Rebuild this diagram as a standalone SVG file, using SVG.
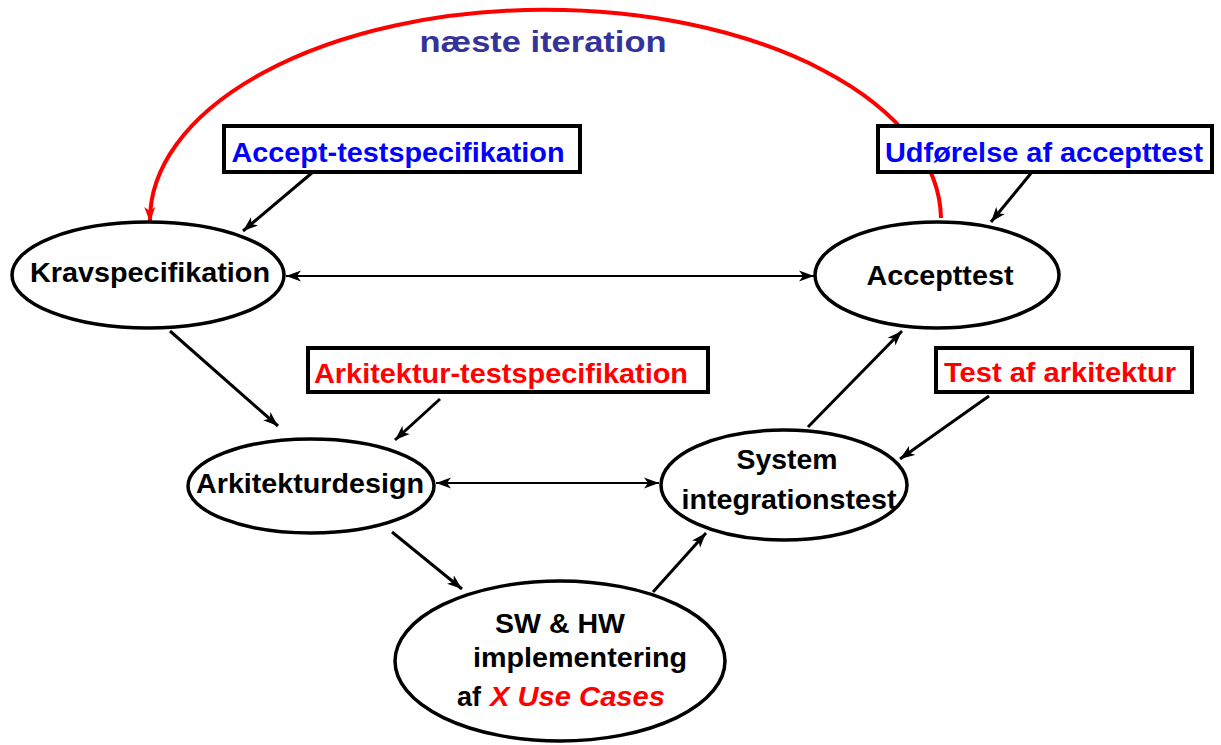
<svg xmlns="http://www.w3.org/2000/svg" width="1221" height="745" viewBox="0 0 1221 745">
<style>
text{font-family:"Liberation Sans",Arial,sans-serif;font-weight:bold;text-anchor:middle}
.n{fill:#fff;stroke:#000;stroke-width:3.5}
.b{fill:#fff;stroke:#000;stroke-width:4}
.k{fill:#000;font-size:28px}
.bl{fill:#0000ff;font-size:28px}
.rd{fill:#ff0000;font-size:28px}
.s{fill:#000;font-size:27px}
.c{stroke:#000;stroke-width:3;fill:none;marker-end:url(#ah)}
.h{stroke:#000;stroke-width:2;fill:none;marker-end:url(#ah);marker-start:url(#ah)}
</style>
<defs>
<marker id="ah" markerUnits="userSpaceOnUse" markerWidth="16" markerHeight="12" refX="15" refY="6" orient="auto-start-reverse">
<path d="M0,0.5 L15,6 L0,11.5 L4,6 z" fill="#000"/>
</marker>
<marker id="ahr" markerUnits="userSpaceOnUse" markerWidth="16" markerHeight="12" refX="15" refY="6" orient="auto">
<path d="M0,0.5 L15,6 L0,11.5 L4,6 z" fill="#ff0000"/>
</marker>
</defs>
<rect width="1221" height="745" fill="#fff"/>
<g id="connectors">
<path d="M941 218 A 395 210 0 0 0 150 222" stroke="#ff0000" stroke-width="4" fill="none" marker-end="url(#ahr)"/>
<line class="c" x1="313" y1="172" x2="243" y2="231"/>
<line class="c" x1="1032" y1="172" x2="991" y2="222"/>
<line class="h" x1="286" y1="276" x2="814" y2="276"/>
<line class="c" x1="170" y1="331" x2="278" y2="426"/>
<line class="c" x1="440" y1="399" x2="395" y2="440"/>
<line class="h" x1="436" y1="483" x2="659" y2="483"/>
<line class="c" x1="808" y1="427" x2="902" y2="331"/>
<line class="c" x1="989" y1="396" x2="900" y2="459"/>
<line class="c" x1="392" y1="532" x2="462" y2="589"/>
<line class="c" x1="653" y1="592" x2="706" y2="533"/>
</g>
<g id="label-naeste">
<text x="543" y="52" fill="#333399" font-size="30" textLength="247" lengthAdjust="spacingAndGlyphs">næste iteration</text>
</g>
<g id="box-accept-testspec">
<rect class="b" x="224" y="126" width="356" height="46"/>
<text class="bl" x="398" y="162" textLength="333" lengthAdjust="spacingAndGlyphs">Accept-testspecifikation</text>
</g>
<g id="box-udfoerelse">
<rect class="b" x="878" y="126" width="334" height="46"/>
<text class="bl" x="1044" y="162" textLength="318" lengthAdjust="spacingAndGlyphs">Udførelse af accepttest</text>
</g>
<g id="box-arkitektur-testspec">
<rect class="b" x="308" y="348" width="400" height="44"/>
<text class="rd" x="501" y="383" textLength="374" lengthAdjust="spacingAndGlyphs">Arkitektur-testspecifikation</text>
</g>
<g id="box-test-arkitektur">
<rect class="b" x="936" y="348" width="256" height="44"/>
<text class="rd" x="1060" y="382" textLength="232" lengthAdjust="spacingAndGlyphs">Test af arkitektur</text>
</g>
<g id="node-krav">
<ellipse class="n" cx="148" cy="275" rx="136" ry="53"/>
<text class="k" x="150" y="282" textLength="240" lengthAdjust="spacingAndGlyphs">Kravspecifikation</text>
</g>
<g id="node-accepttest">
<ellipse class="n" cx="937" cy="275" rx="122" ry="53"/>
<text class="k" x="940" y="285" textLength="147" lengthAdjust="spacingAndGlyphs">Accepttest</text>
</g>
<g id="node-arkitekturdesign">
<ellipse class="n" cx="311" cy="486" rx="123" ry="47"/>
<text class="k" x="310" y="493" textLength="228" lengthAdjust="spacingAndGlyphs">Arkitekturdesign</text>
</g>
<g id="node-system">
<ellipse class="n" cx="784" cy="485" rx="123" ry="55"/>
<text class="k" x="787" y="469" textLength="101" lengthAdjust="spacingAndGlyphs">System</text>
<text class="k" x="789" y="509" textLength="215" lengthAdjust="spacingAndGlyphs">integrationstest</text>
</g>
<g id="node-swhw">
<ellipse class="n" cx="560" cy="661" rx="165" ry="80"/>
<text class="s" x="560" y="633" textLength="130" lengthAdjust="spacingAndGlyphs">SW &amp; HW</text>
<text class="s" x="580" y="667" textLength="214" lengthAdjust="spacingAndGlyphs">implementering</text>
<text class="s" x="457" y="706" style="text-anchor:start" textLength="24" lengthAdjust="spacingAndGlyphs">af</text>
<text class="s" x="490" y="706" style="text-anchor:start;fill:#ff0000;font-style:italic" textLength="175" lengthAdjust="spacingAndGlyphs">X Use Cases</text>
</g>
</svg>
